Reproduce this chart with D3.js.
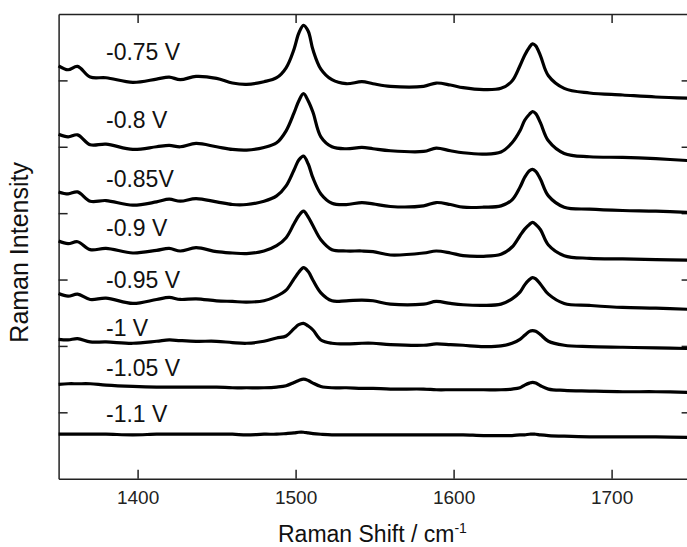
<!DOCTYPE html>
<html>
<head>
<meta charset="utf-8">
<script src="https://cdn.jsdelivr.net/npm/d3@7"></script>
<style>
  body { margin: 0; background: #fff; }
  svg { display: block; font-family: Arial, "Liberation Sans", sans-serif; }
  .axis path, .axis line { stroke: #222; stroke-width: 1.5; }
  .axis text { fill: #222; font-size: 19px; font-family: Arial, "Liberation Sans", sans-serif; }
</style>
</head>
<body>
<div id="chart"></div>
<script>
// shared wavenumber grid (cm-1)
var shift = [1350,1356,1362,1370,1380,1397,1412,1420,1427,1437,1450,1460,1469,1480,1488,1494,1499,1502,1505,1508,1511,1516,1523,1532,1542,1549,1560,1581,1589,1598,1606,1619,1630,1637,1642,1645,1648,1650,1652,1655,1660,1670,1686,1707,1728,1750];

var potentials = ["-0.75 V", "-0.8 V", "-0.85V", "-0.9 V", "-0.95 V", "-1 V", "-1.05 V", "-1.1 V"];

// intensities (a.u., stacked)
var i075 = [6.22,6.16,6.21,6.05,6.04,5.97,6.02,6.05,6.01,6.06,6.03,5.96,5.94,5.98,6.04,6.19,6.47,6.71,6.83,6.74,6.46,6.17,6.01,5.95,5.98,5.95,5.91,5.91,5.96,5.93,5.89,5.86,5.88,5.99,6.22,6.38,6.50,6.55,6.52,6.37,6.07,5.88,5.81,5.78,5.75,5.73];
var i080 = [5.19,5.15,5.18,5.03,5.04,4.96,5.00,5.02,5.00,5.05,5.00,4.96,4.95,4.99,5.06,5.24,5.51,5.69,5.80,5.69,5.52,5.15,5.00,4.97,4.99,4.97,4.94,4.93,4.98,4.94,4.91,4.89,4.92,5.06,5.24,5.40,5.49,5.53,5.50,5.36,5.09,4.90,4.85,4.84,4.82,4.79];
var i085 = [4.32,4.29,4.32,4.18,4.19,4.12,4.17,4.21,4.18,4.22,4.17,4.13,4.13,4.18,4.26,4.41,4.65,4.80,4.86,4.74,4.53,4.29,4.15,4.13,4.16,4.14,4.10,4.11,4.16,4.13,4.09,4.09,4.11,4.20,4.39,4.54,4.64,4.66,4.63,4.51,4.26,4.09,4.06,4.04,4.03,4.01];
var i090 = [3.58,3.54,3.57,3.45,3.47,3.40,3.44,3.47,3.43,3.48,3.42,3.40,3.39,3.43,3.51,3.63,3.84,3.96,4.03,3.94,3.81,3.60,3.45,3.43,3.43,3.42,3.37,3.40,3.43,3.40,3.36,3.35,3.38,3.49,3.66,3.76,3.83,3.86,3.83,3.75,3.52,3.36,3.32,3.31,3.30,3.29];
var i095 = [2.79,2.75,2.78,2.70,2.72,2.64,2.70,2.73,2.70,2.71,2.68,2.67,2.66,2.68,2.75,2.84,3.01,3.11,3.18,3.12,2.99,2.80,2.68,2.68,2.69,2.68,2.63,2.63,2.67,2.64,2.62,2.61,2.63,2.71,2.81,2.92,3.00,3.03,3.01,2.93,2.78,2.64,2.61,2.58,2.57,2.55];
var i100 = [2.10,2.09,2.11,2.06,2.06,2.04,2.07,2.09,2.08,2.07,2.07,2.05,2.04,2.07,2.12,2.15,2.26,2.32,2.34,2.30,2.24,2.09,2.04,2.03,2.04,2.04,2.02,2.01,2.03,2.02,2.01,1.99,2.00,2.04,2.10,2.16,2.22,2.23,2.22,2.17,2.07,2.01,1.99,1.98,1.97,1.96];
var i105 = [1.42,1.43,1.43,1.43,1.41,1.39,1.38,1.38,1.38,1.38,1.38,1.37,1.37,1.37,1.38,1.40,1.45,1.48,1.50,1.48,1.44,1.39,1.37,1.37,1.36,1.36,1.35,1.35,1.34,1.34,1.34,1.34,1.34,1.35,1.37,1.41,1.44,1.45,1.44,1.40,1.35,1.33,1.32,1.31,1.31,1.30];
var i110 = [0.67,0.67,0.67,0.67,0.67,0.66,0.67,0.67,0.67,0.67,0.67,0.67,0.66,0.67,0.67,0.68,0.69,0.70,0.70,0.69,0.68,0.67,0.66,0.66,0.66,0.66,0.66,0.66,0.66,0.66,0.66,0.65,0.65,0.65,0.66,0.66,0.67,0.67,0.67,0.66,0.65,0.64,0.63,0.63,0.63,0.62];

var spectra = [i075, i080, i085, i090, i095, i100, i105, i110];

var xTicks = [1400, 1500, 1600, 1700];
var yTicks = [1, 2, 3, 4, 5, 6];

// where each potential label sits (shift, intensity)
var labelShift = 1380;
var labelLevel = [6.31, 5.28, 4.40, 3.66, 2.88, 2.15, 1.55, 0.86];

var svgW = 687, svgH = 547;
var margin = { top: 14, left: 58.6, right: -3.6, bottom: 68.3 },
	width = svgW - margin.left - margin.right,
	height = svgH - margin.top - margin.bottom;

var svg = d3.select("#chart")
	.append("svg")
	.attr("width", svgW)
	.attr("height", svgH);

var g = svg.append("g")
	.attr("transform", "translate(" + margin.left + "," + margin.top + ")");

var x = d3.scaleLinear().domain([1350, 1750]).range([0, width]);
var y = d3.scaleLinear().domain([0, 7]).range([height, 0]);

g.append("g")
	.attr("class", "x axis")
	.attr("transform", "translate(0," + height + ")")
	.call(d3.axisBottom(x).tickValues(xTicks).tickSizeInner(-9).tickSizeOuter(0).tickPadding(12).tickFormat(d3.format("d")));

g.append("g")
	.attr("class", "axis")
	.call(d3.axisTop(x).tickValues(xTicks).tickSizeInner(-9).tickSizeOuter(0).tickFormat(""));

g.append("g")
	.attr("class", "y axis")
	.call(d3.axisLeft(y).tickValues(yTicks).tickSizeInner(-9).tickSizeOuter(0).tickFormat(""));

g.append("g")
	.attr("class", "axis")
	.attr("transform", "translate(" + width + ",0)")
	.call(d3.axisRight(y).tickValues(yTicks).tickSizeInner(-9).tickSizeOuter(0).tickFormat(""));

var line = d3.line()
	.x(function(d, i) { return x(shift[i]); })
	.y(function(d) { return y(d); })
	.curve(d3.curveCatmullRom.alpha(0.5));

g.selectAll(".spectrum")
	.data(spectra)
	.enter()
	.append("path")
	.attr("class", "spectrum")
	.attr("fill", "none")
	.attr("stroke", "#000")
	.attr("stroke-width", 3.2)
	.attr("stroke-linejoin", "round")
	.attr("d", line);

g.selectAll(".vlabel")
	.data(potentials)
	.enter()
	.append("text")
	.attr("class", "vlabel")
	.attr("x", x(labelShift))
	.attr("y", function(d, i) { return y(labelLevel[i]); })
	.attr("fill", "#111")
	.style("font-size", "23px")
	.text(function(d) { return d; });

// axis titles
var xt = svg.append("text")
	.attr("x", 278)
	.attr("y", 542)
	.attr("fill", "#111")
	.style("font-size", "23px");
xt.append("tspan").text("Raman Shift / cm");
xt.append("tspan").attr("dy", -9).style("font-size", "14px").text("-1");

svg.append("text")
	.attr("transform", "translate(28," + (margin.top + height / 2 + 6) + ") rotate(-90)")
	.attr("text-anchor", "middle")
	.attr("fill", "#111")
	.style("font-size", "25px")
	.text("Raman Intensity");
</script>
</body>
</html>
